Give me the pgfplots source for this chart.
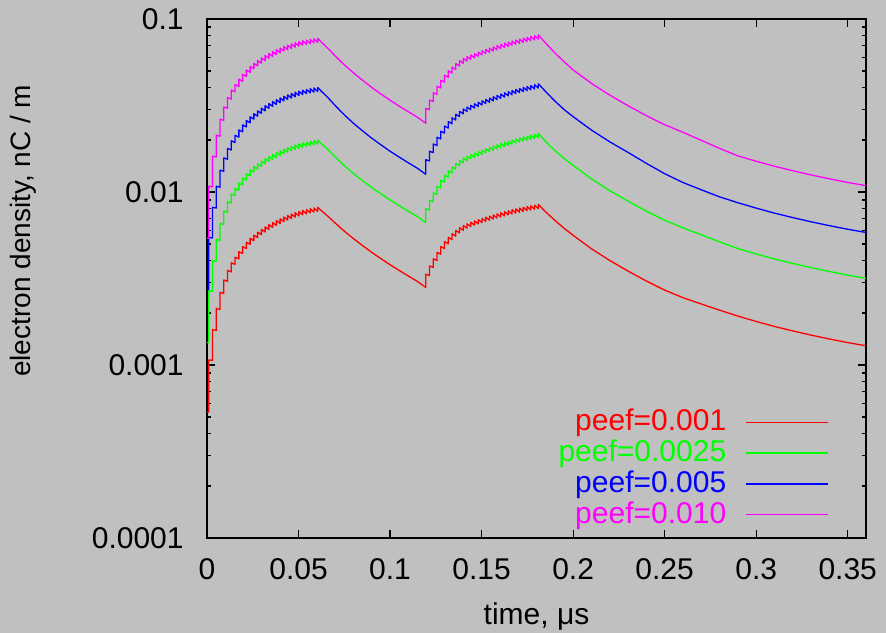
\documentclass[border=0pt]{standalone}
\usepackage{fontspec}
\setmainfont{Liberation Sans}
\usepackage{pgfplots}
\pgfplotsset{compat=1.18}
\definecolor{bg}{RGB}{192,192,192}
\definecolor{cred}{RGB}{255,0,0}
\definecolor{cgrn}{RGB}{0,255,0}
\definecolor{cblu}{RGB}{0,0,255}
\definecolor{cmag}{RGB}{255,0,255}
\begin{document}
\fontsize{15}{18}\selectfont
\begin{tikzpicture}
\fill[bg] (-103.5pt,-47.5pt) rectangle (339.5pt,269pt);
\begin{axis}[
  at={(0,0)}, anchor=south west,
  scale only axis, width=329.5pt, height=259.5pt,
  ymode=log, xmin=0, xmax=0.36, ymin=1e-4, ymax=0.1,
  xtick={0,0.05,0.1,0.15,0.2,0.25,0.3,0.35},
  xticklabels={0,0.05,0.1,0.15,0.2,0.25,0.3,0.35},
  ytick={1e-4,1e-3,1e-2,1e-1},
  yticklabels={0.0001,0.001,0.01,0.1},
  /pgf/number format/assume math mode=true,
  axis line style={line width=0.65pt},
  every tick/.style={black, line width=0.6pt},
  major tick length=4pt, minor tick length=2.2pt,
  tick align=inside,
  xlabel={time, μs}, ylabel={electron density, nC / m},
  xlabel style={at={(axis description cs:0.5,-0.151)}, anchor=center},
  ylabel style={at={(axis description cs:-0.2792,0.592)}, anchor=center, font=\fontsize{14}{17}\selectfont},
  yticklabel style={xshift=-6.5pt},
  xticklabel style={yshift=-5pt},
  legend style={draw=none, fill=none, at={(axis description cs:0.9439,0.249)}, anchor=north east,
    inner sep=0pt, row sep=2.3pt, nodes={inner ysep=0pt, inner xsep=3pt}},
  legend cell align=right, legend plot pos=right,
  legend image code/.code={\path (0pt,0pt); \draw[#1, line width=0.75pt] (6.5pt,0pt) -- (47.5pt,0pt);},
  every axis plot/.append style={line width=0.65pt, line join=round},
]
\addplot[cred] coordinates {
(0,0.000537)(0.001,0.000535)(0.001,0.00107)
(0.00305,0.001064)(0.00305,0.0016)
(0.0051,0.001586)(0.0051,0.00212)
(0.00715,0.002095)(0.00715,0.00263)
(0.0092,0.002592)(0.0092,0.0031)
(0.01125,0.003047)(0.01125,0.00352)
(0.0133,0.003452)(0.0133,0.0039)
(0.01535,0.003816)(0.01535,0.0042)
(0.0174,0.004103)(0.0174,0.00452)
(0.01945,0.004408)(0.01945,0.00484)
(0.0215,0.004711)(0.0215,0.00513)
(0.02355,0.004985)(0.02355,0.0054)
(0.0256,0.00524)(0.0256,0.00563)
(0.02765,0.005456)(0.02765,0.00586)
(0.0297,0.005671)(0.0297,0.00608)
(0.03175,0.005877)(0.03175,0.00629)
(0.0338,0.006072)(0.0338,0.00648)
(0.03585,0.006249)(0.03585,0.00666)
(0.0379,0.006416)(0.0379,0.00684)
(0.03995,0.006583)(0.03995,0.00701)
(0.042,0.00674)(0.042,0.00717)
(0.04405,0.006887)(0.04405,0.00732)
(0.0461,0.007025)(0.0461,0.00746)
(0.04815,0.007154)(0.04815,0.00759)
(0.0502,0.007273)(0.0502,0.00771)
(0.05225,0.007383)(0.05225,0.00782)
(0.0543,0.007484)(0.0543,0.00792)
(0.05635,0.007575)(0.05635,0.00801)
(0.0584,0.007657)(0.0584,0.00809)
(0.06045,0.00773)(0.06045,0.00816)
(0.0625,0.0078)(0.066,0.00725)(0.07,0.00662)(0.075,0.00594)(0.08,0.00538)(0.085,0.0049)(0.09,0.00448)(0.095,0.00412)(0.1,0.0038)(0.105,0.00352)(0.11,0.00327)(0.115,0.00304)(0.1195,0.00281)
(0.1195,0.00335)
(0.12155,0.003288)(0.12155,0.00374)
(0.1236,0.003663)(0.1236,0.00411)
(0.12565,0.004017)(0.12565,0.00448)
(0.1277,0.00437)(0.1277,0.00484)
(0.12975,0.004711)(0.12975,0.00517)
(0.1318,0.005023)(0.1318,0.00547)
(0.13385,0.005305)(0.13385,0.00574)
(0.1359,0.005559)(0.1359,0.006)
(0.13795,0.005802)(0.13795,0.00622)
(0.14,0.006007)(0.14,0.0064)
(0.14205,0.006175)(0.14205,0.00655)
(0.1441,0.006314)(0.1441,0.00668)
(0.14615,0.006435)(0.14615,0.0068)
(0.1482,0.006546)(0.1482,0.00692)
(0.15025,0.006657)(0.15025,0.00704)
(0.1523,0.006767)(0.1523,0.00715)
(0.15435,0.006869)(0.15435,0.00726)
(0.1564,0.00697)(0.1564,0.00737)
(0.15845,0.007071)(0.15845,0.00748)
(0.1605,0.007172)(0.1605,0.00759)
(0.16255,0.007273)(0.16255,0.0077)
(0.1646,0.007374)(0.1646,0.0078)
(0.16665,0.007465)(0.16665,0.0079)
(0.1687,0.007557)(0.1687,0.00799)
(0.17075,0.007639)(0.17075,0.00808)
(0.1728,0.007721)(0.1728,0.00816)
(0.17485,0.007794)(0.17485,0.00824)
(0.1769,0.007867)(0.1769,0.00832)
(0.17895,0.007939)(0.17895,0.0084)
(0.181,0.008012)(0.181,0.00848)
(0.185,0.00768)(0.19,0.00686)(0.195,0.00618)(0.2,0.00562)(0.21,0.0047)(0.22,0.00402)(0.23,0.00349)(0.24,0.00306)(0.25,0.00271)(0.26,0.00245)(0.27,0.002254)(0.28,0.002075)(0.29,0.001919)(0.3,0.001786)(0.31,0.001671)(0.32,0.001574)(0.33,0.001489)(0.34,0.001414)(0.35,0.001348)(0.36,0.001291)
};
\addlegendentry{\textcolor{cred}{peef=0.001}}
\addplot[cgrn] coordinates {
(0,0.00135)(0.001,0.001344)(0.001,0.002688)
(0.00305,0.002671)(0.00305,0.004016)
(0.0051,0.003978)(0.0051,0.005317)
(0.00715,0.005248)(0.00715,0.006588)
(0.0092,0.006488)(0.0092,0.007759)
(0.01125,0.007621)(0.01125,0.008804)
(0.0133,0.008627)(0.0133,0.009746)
(0.01535,0.009529)(0.01535,0.01049)
(0.0174,0.01024)(0.0174,0.01128)
(0.01945,0.01099)(0.01945,0.01206)
(0.0215,0.01173)(0.0215,0.01277)
(0.02355,0.0124)(0.02355,0.01344)
(0.0256,0.01303)(0.0256,0.014)
(0.02765,0.01355)(0.02765,0.01456)
(0.0297,0.01408)(0.0297,0.01509)
(0.03175,0.01457)(0.03175,0.01559)
(0.0338,0.01504)(0.0338,0.01605)
(0.03585,0.01547)(0.03585,0.01648)
(0.0379,0.01587)(0.0379,0.01692)
(0.03995,0.01627)(0.03995,0.01732)
(0.042,0.01664)(0.042,0.0177)
(0.04405,0.01698)(0.04405,0.01805)
(0.0461,0.01731)(0.0461,0.01838)
(0.04815,0.01761)(0.04815,0.01869)
(0.0502,0.01789)(0.0502,0.01897)
(0.05225,0.01815)(0.05225,0.01922)
(0.0543,0.01838)(0.0543,0.01945)
(0.05635,0.01858)(0.05635,0.01965)
(0.0584,0.01877)(0.0584,0.01983)
(0.06045,0.01893)(0.06045,0.01998)
(0.0625,0.01903)(0.066,0.01762)(0.07,0.01595)(0.075,0.0142)(0.08,0.0128)(0.085,0.01161)(0.09,0.01062)(0.095,0.009764)(0.1,0.009006)(0.105,0.008342)(0.11,0.00775)(0.115,0.007205)(0.1195,0.006648)
(0.1195,0.0080)
(0.12155,0.007871)(0.12155,0.008954)
(0.1236,0.008791)(0.1236,0.009864)
(0.12565,0.009669)(0.12565,0.01078)
(0.1277,0.01055)(0.1277,0.01168)
(0.12975,0.0114)(0.12975,0.01251)
(0.1318,0.01218)(0.1318,0.01327)
(0.13385,0.0129)(0.13385,0.01395)
(0.1359,0.01355)(0.1359,0.01463)
(0.13795,0.01418)(0.13795,0.0152)
(0.14,0.01472)(0.14,0.01568)
(0.14205,0.01517)(0.14205,0.01609)
(0.1441,0.01555)(0.1441,0.01645)
(0.14615,0.01589)(0.14615,0.01679)
(0.1482,0.0162)(0.1482,0.01713)
(0.15025,0.01652)(0.15025,0.01747)
(0.1523,0.01683)(0.1523,0.01778)
(0.15435,0.01712)(0.15435,0.0181)
(0.1564,0.01743)(0.1564,0.01843)
(0.15845,0.01772)(0.15845,0.01875)
(0.1605,0.01802)(0.1605,0.01907)
(0.16255,0.01831)(0.16255,0.01939)
(0.1646,0.01861)(0.1646,0.01969)
(0.16665,0.01889)(0.16665,0.02)
(0.1687,0.01917)(0.1687,0.02027)
(0.17075,0.01943)(0.17075,0.02055)
(0.1728,0.01968)(0.1728,0.0208)
(0.17485,0.01991)(0.17485,0.02105)
(0.1769,0.02016)(0.1769,0.02132)
(0.17895,0.02039)(0.17895,0.02157)
(0.181,0.02062)(0.181,0.02183)
(0.185,0.01958)(0.19,0.01739)(0.195,0.01567)(0.2,0.01425)(0.21,0.01192)(0.22,0.01019)(0.23,0.008847)(0.24,0.007757)(0.25,0.00687)(0.26,0.006211)(0.27,0.005662)(0.28,0.005152)(0.29,0.004711)(0.3,0.004385)(0.31,0.004102)(0.32,0.003864)(0.33,0.003655)(0.34,0.003471)(0.35,0.003309)(0.36,0.003169)
};
\addlegendentry{\textcolor{cgrn}{peef=0.0025}}
\addplot[cblu] coordinates {
(0,0.00274)(0.001,0.002731)(0.001,0.005462)
(0.00305,0.005425)(0.00305,0.008158)
(0.0051,0.008077)(0.0051,0.0108)
(0.00715,0.01066)(0.00715,0.01338)
(0.0092,0.01317)(0.0092,0.01575)
(0.01125,0.01546)(0.01125,0.01786)
(0.0133,0.0175)(0.0133,0.01977)
(0.01535,0.01932)(0.01535,0.02127)
(0.0174,0.02075)(0.0174,0.02286)
(0.01945,0.02227)(0.01945,0.02445)
(0.0215,0.02377)(0.0215,0.02588)
(0.02355,0.02512)(0.02355,0.02721)
(0.0256,0.02637)(0.0256,0.02834)
(0.02765,0.02743)(0.02765,0.02946)
(0.0297,0.02847)(0.0297,0.03053)
(0.03175,0.02947)(0.03175,0.03154)
(0.0338,0.03042)(0.0338,0.03246)
(0.03585,0.03127)(0.03585,0.03333)
(0.0379,0.03207)(0.0379,0.03419)
(0.03995,0.03286)(0.03995,0.03499)
(0.042,0.03361)(0.042,0.03575)
(0.04405,0.0343)(0.04405,0.03645)
(0.0461,0.03494)(0.0461,0.03711)
(0.04815,0.03554)(0.04815,0.03771)
(0.0502,0.03609)(0.0502,0.03826)
(0.05225,0.03659)(0.05225,0.03876)
(0.0543,0.03705)(0.0543,0.0392)
(0.05635,0.03745)(0.05635,0.0396)
(0.0584,0.03781)(0.0584,0.03995)
(0.06045,0.03812)(0.06045,0.04025)
(0.0625,0.03822)(0.066,0.03516)(0.07,0.03164)(0.075,0.02792)(0.08,0.02496)(0.085,0.02254)(0.09,0.02047)(0.095,0.01875)(0.1,0.01721)(0.105,0.01591)(0.11,0.01475)(0.115,0.01371)(0.1195,0.01266)
(0.1195,0.01536)
(0.12155,0.01512)(0.12155,0.0172)
(0.1236,0.01689)(0.1236,0.01895)
(0.12565,0.01858)(0.12565,0.02072)
(0.1277,0.02027)(0.1277,0.02245)
(0.12975,0.02191)(0.12975,0.02405)
(0.1318,0.02343)(0.1318,0.02551)
(0.13385,0.02481)(0.13385,0.02685)
(0.1359,0.02607)(0.1359,0.02814)
(0.13795,0.02729)(0.13795,0.02926)
(0.14,0.02834)(0.14,0.03019)
(0.14205,0.02921)(0.14205,0.03098)
(0.1441,0.02995)(0.1441,0.03168)
(0.14615,0.03061)(0.14615,0.03234)
(0.1482,0.03122)(0.1482,0.033)
(0.15025,0.03184)(0.15025,0.03367)
(0.1523,0.03245)(0.1523,0.03429)
(0.15435,0.03303)(0.15435,0.03491)
(0.1564,0.03361)(0.1564,0.03554)
(0.15845,0.03419)(0.15845,0.03617)
(0.1605,0.03477)(0.1605,0.0368)
(0.16255,0.03536)(0.16255,0.03744)
(0.1646,0.03595)(0.1646,0.03803)
(0.16665,0.03649)(0.16665,0.03862)
(0.1687,0.03704)(0.1687,0.03916)
(0.17075,0.03754)(0.17075,0.03971)
(0.1728,0.03804)(0.1728,0.0402)
(0.17485,0.03851)(0.17485,0.04071)
(0.1769,0.03897)(0.1769,0.04122)
(0.17895,0.03943)(0.17895,0.04172)
(0.181,0.0399)(0.181,0.04223)
(0.185,0.03805)(0.19,0.0336)(0.195,0.02999)(0.2,0.02727)(0.21,0.02281)(0.22,0.01951)(0.23,0.01694)(0.24,0.01465)(0.25,0.01276)(0.26,0.01135)(0.27,0.0103)(0.28,0.009377)(0.29,0.008672)(0.3,0.008071)(0.31,0.007551)(0.32,0.007113)(0.33,0.006729)(0.34,0.00639)(0.35,0.006092)(0.36,0.005834)
};
\addlegendentry{\textcolor{cblu}{peef=0.005}}
\addplot[cmag] coordinates {
(0,0.00542)(0.001,0.005398)(0.001,0.0108)
(0.00305,0.01071)(0.00305,0.01611)
(0.0051,0.01594)(0.0051,0.0213)
(0.00715,0.02101)(0.00715,0.02637)
(0.0092,0.02594)(0.0092,0.03102)
(0.01125,0.03042)(0.01125,0.03515)
(0.0133,0.0344)(0.0133,0.03886)
(0.01535,0.03795)(0.01535,0.04177)
(0.0174,0.04071)(0.0174,0.04485)
(0.01945,0.04365)(0.01945,0.04793)
(0.0215,0.04655)(0.0215,0.05069)
(0.02355,0.04915)(0.02355,0.05324)
(0.0256,0.05156)(0.0256,0.05539)
(0.02765,0.05357)(0.02765,0.05753)
(0.0297,0.05556)(0.0297,0.05957)
(0.03175,0.05745)(0.03175,0.06149)
(0.0338,0.05924)(0.0338,0.06322)
(0.03585,0.06083)(0.03585,0.06484)
(0.0379,0.06233)(0.0379,0.06644)
(0.03995,0.06381)(0.03995,0.06795)
(0.042,0.06519)(0.042,0.06935)
(0.04405,0.06647)(0.04405,0.07065)
(0.0461,0.06765)(0.0461,0.07184)
(0.04815,0.06874)(0.04815,0.07293)
(0.0502,0.06973)(0.0502,0.07392)
(0.05225,0.07063)(0.05225,0.07481)
(0.0543,0.07145)(0.0543,0.07561)
(0.05635,0.07216)(0.05635,0.0763)
(0.0584,0.07278)(0.0584,0.0769)
(0.06045,0.07331)(0.06045,0.07739)
(0.0625,0.07348)(0.066,0.06779)(0.07,0.06124)(0.075,0.05435)(0.08,0.04885)(0.085,0.0442)(0.09,0.04023)(0.095,0.03687)(0.1,0.03393)(0.105,0.03136)(0.11,0.0291)(0.115,0.02703)(0.1195,0.02498)
(0.1195,0.03042)
(0.12155,0.02991)(0.12155,0.03402)
(0.1236,0.03337)(0.1236,0.03745)
(0.12565,0.03666)(0.12565,0.04089)
(0.1277,0.03996)(0.1277,0.04425)
(0.12975,0.04314)(0.12975,0.04735)
(0.1318,0.04608)(0.1318,0.05018)
(0.13385,0.04875)(0.13385,0.05275)
(0.1359,0.05117)(0.1359,0.05523)
(0.13795,0.0535)(0.13795,0.05736)
(0.14,0.05549)(0.14,0.05912)
(0.14205,0.05713)(0.14205,0.0606)
(0.1441,0.05852)(0.1441,0.06191)
(0.14615,0.05974)(0.14615,0.06313)
(0.1482,0.06087)(0.1482,0.06435)
(0.15025,0.06201)(0.15025,0.06558)
(0.1523,0.06314)(0.1523,0.06672)
(0.15435,0.0642)(0.15435,0.06785)
(0.1564,0.06525)(0.1564,0.069)
(0.15845,0.06631)(0.15845,0.07015)
(0.1605,0.06737)(0.1605,0.07129)
(0.16255,0.06843)(0.16255,0.07245)
(0.1646,0.0695)(0.1646,0.07352)
(0.16665,0.07047)(0.16665,0.07458)
(0.1687,0.07146)(0.1687,0.07555)
(0.17075,0.07236)(0.17075,0.07653)
(0.1728,0.07325)(0.1728,0.07741)
(0.17485,0.07407)(0.17485,0.07831)
(0.1769,0.07489)(0.1769,0.0792)
(0.17895,0.07569)(0.17895,0.08009)
(0.181,0.07652)(0.181,0.08098)
(0.185,0.0725)(0.19,0.06373)(0.195,0.05673)(0.2,0.05078)(0.21,0.04247)(0.22,0.03633)(0.23,0.03154)(0.24,0.02765)(0.25,0.02449)(0.26,0.02214)(0.27,0.0199)(0.28,0.01787)(0.29,0.01618)(0.3,0.01506)(0.31,0.01409)(0.32,0.01327)(0.33,0.01255)(0.34,0.01192)(0.35,0.01136)(0.36,0.01088)
};
\addlegendentry{\textcolor{cmag}{peef=0.010}}
\end{axis}
\pgfresetboundingbox
\path[use as bounding box] (-103.5pt,-47.5pt) rectangle (339.5pt,269pt);
\end{tikzpicture}
\end{document}
